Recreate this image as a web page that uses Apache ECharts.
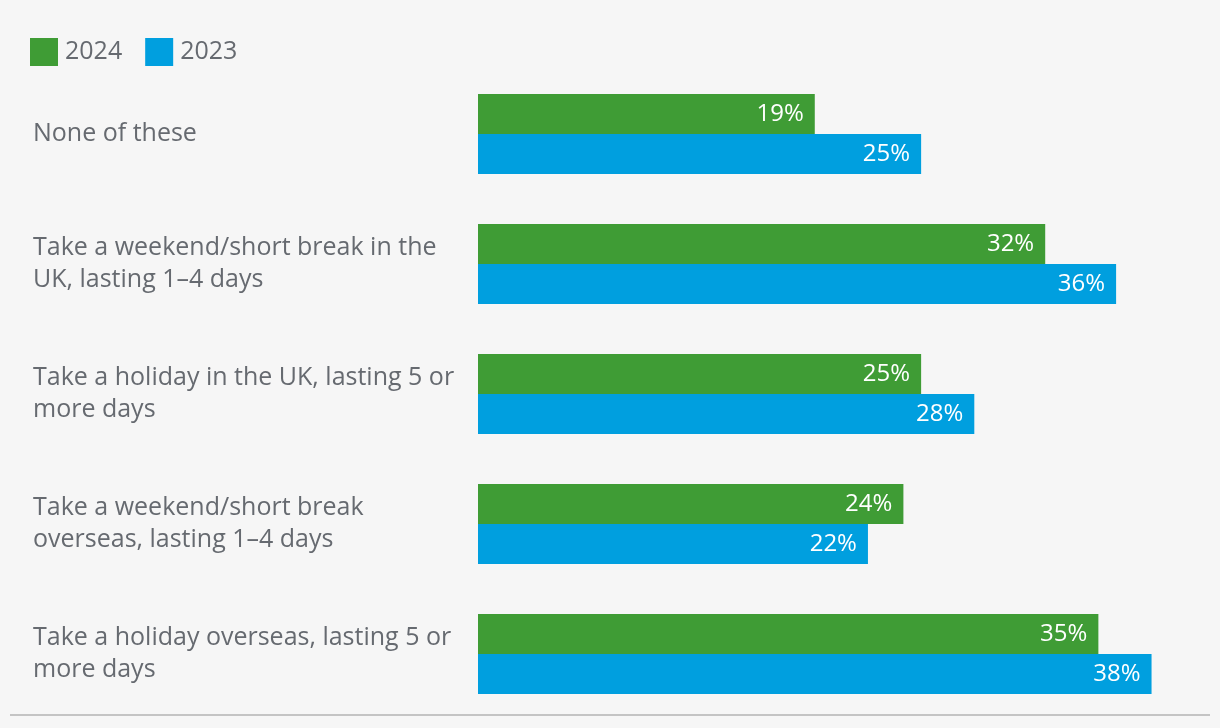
<!DOCTYPE html>
<html><head><meta charset="utf-8">
<script src="https://cdn.jsdelivr.net/npm/echarts@6/dist/echarts.min.js"></script>
<style>html,body{margin:0;padding:0;background:#f6f6f6;}#c{width:1220px;height:728px;}</style>
</head><body><div id="c"></div>
<script>
const categories = [
  "None of these",
  "Take a weekend/short break in the\nUK, lasting 1–4 days",
  "Take a holiday in the UK, lasting 5 or\nmore days",
  "Take a weekend/short break\noverseas, lasting 1–4 days",
  "Take a holiday overseas, lasting 5 or\nmore days"
];
const values2024 = [19, 32, 25, 24, 35];
const values2023 = [25, 36, 28, 22, 38];
const seriesNames = ["2024", "2023"];

const FONT = "Open Sans";
const chart = echarts.init(document.getElementById('c'));
const labelOpt = {
  show: true, position: 'insideRight', distance: 11, color: '#ffffff',
  fontFamily: FONT, fontSize: 24, formatter: p => p.value + '%'
};
chart.setOption({
  backgroundColor: '#f6f6f6',
  animation: false,
  legend: {
    left: 30, top: 38, padding: 0, itemWidth: 28, itemHeight: 28, itemGap: 23,
    icon: 'rect',
    textStyle: { color: '#666a70', fontFamily: FONT, fontSize: 25, padding: [0,0,0,2] },
    data: seriesNames
  },
  grid: { left: 478, top: 69, width: 709, height: 650, containLabel: false },
  xAxis: { type: 'value', min: 0, max: 40, show: false },
  yAxis: {
    type: 'category', inverse: true, data: categories,
    axisLine: { show: false }, axisTick: { show: false },
    axisLabel: {
      align: 'left', margin: 445, color: '#666a70', fontFamily: FONT,
      fontSize: 25, lineHeight: 32
    }
  },
  series: [
    { name: seriesNames[0], type: 'bar', data: values2024, barWidth: 40, barGap: '0%',
      itemStyle: { color: '#3f9c35' }, label: labelOpt },
    { name: seriesNames[1], type: 'bar', data: values2023, barWidth: 40, barGap: '0%',
      itemStyle: { color: '#009fdf' }, label: labelOpt }
  ],
  graphic: [{
    type: 'line', shape: { x1: 10, y1: 715, x2: 1210, y2: 715 },
    style: { stroke: '#c4c4c4', lineWidth: 2 }
  }]
});
</script></body></html>
